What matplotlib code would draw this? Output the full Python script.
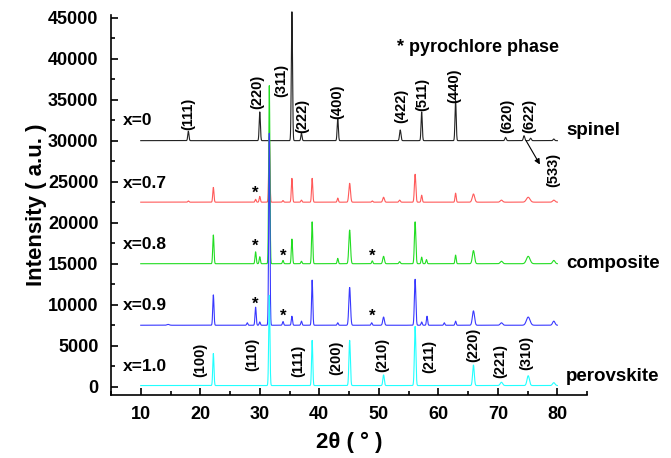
import numpy as np
import matplotlib.pyplot as plt

plt.rcParams['font.family'] = ['Liberation Sans', 'DejaVu Sans']
plt.rcParams['font.weight'] = 'bold'
plt.rcParams['axes.labelweight'] = 'bold'

# 2theta grid of the patterns
two_theta = np.arange(10, 80.01, 0.02)

# sample names, vertical offsets and colours
samples = ["x=0", "x=0.7", "x=0.8", "x=0.9", "x=1.0"]
offsets = [30000, 22500, 15000, 7500, 150]
colors = ["#222222", "#ff5a5a", "#22dd22", "#3838ff", "#22ffff"]

# peaks: position, height, width (sigma)
peaks_x0 = [(18.0, 1150, 0.1), (30.0, 3500, 0.1), (35.4, 15700, 0.1), (37.0, 900, 0.1),
            (43.1, 2700, 0.1), (53.6, 1300, 0.12), (57.2, 3500, 0.1), (62.9, 4900, 0.1),
            (71.3, 400, 0.12), (74.4, 600, 0.12), (75.5, 300, 0.12), (79.4, 200, 0.12)]
peaks_x07 = [(18.0, 150, 0.1), (22.2, 1800, 0.1), (29.3, 350, 0.1), (30.0, 700, 0.1),
             (31.6, 8000, 0.1), (33.9, 200, 0.1), (35.4, 2900, 0.1), (37.0, 250, 0.1),
             (38.8, 2900, 0.1), (43.1, 500, 0.1), (45.1, 2300, 0.14), (48.9, 150, 0.1),
             (50.8, 600, 0.14), (53.5, 250, 0.12), (56.1, 3400, 0.12), (57.2, 850, 0.1),
             (62.9, 1100, 0.1), (65.9, 1000, 0.2), (70.6, 250, 0.2), (75.1, 600, 0.3),
             (79.4, 250, 0.2)]
peaks_x08 = [(22.2, 3500, 0.1), (29.3, 1450, 0.1), (30.0, 850, 0.1), (31.6, 21700, 0.1),
             (33.9, 400, 0.1), (35.4, 3000, 0.1), (37.0, 300, 0.1), (38.8, 5100, 0.1),
             (43.1, 650, 0.1), (45.1, 4100, 0.14), (48.9, 350, 0.1), (50.8, 900, 0.14),
             (53.5, 250, 0.12), (56.1, 5100, 0.12), (57.2, 800, 0.1), (58.0, 500, 0.1),
             (62.9, 1050, 0.1), (65.9, 1600, 0.18), (70.6, 300, 0.2), (75.1, 900, 0.3),
             (79.4, 400, 0.2)]
peaks_x09 = [(14.6, 100, 0.2), (22.2, 3700, 0.1), (27.9, 300, 0.1), (29.3, 2200, 0.1),
             (30.0, 400, 0.1), (31.6, 23400, 0.1), (33.9, 450, 0.1), (35.4, 1100, 0.1),
             (37.0, 500, 0.1), (38.8, 5500, 0.1), (43.1, 300, 0.1), (45.1, 4600, 0.14),
             (48.8, 300, 0.1), (50.8, 1000, 0.14), (56.1, 5600, 0.12), (57.2, 400, 0.1),
             (58.1, 1100, 0.1), (61.0, 300, 0.1), (62.9, 500, 0.1), (65.9, 1750, 0.18),
             (70.6, 300, 0.2), (75.1, 1000, 0.3), (79.4, 500, 0.2)]
peaks_x10 = [(22.2, 3900, 0.1), (31.6, 11000, 0.1), (38.8, 5500, 0.1), (45.1, 5500, 0.12),
             (50.8, 1300, 0.12), (56.1, 7200, 0.12), (65.9, 2500, 0.14), (70.6, 400, 0.2),
             (75.1, 1200, 0.2), (79.4, 350, 0.2)]
all_peaks = [peaks_x0, peaks_x07, peaks_x08, peaks_x09, peaks_x10]

# hkl labels: text, x, y (bottom of rotated text)
spinel_labels = [("(111)", 18.0, 31300), ("(220)", 29.6, 33900), ("(311)", 33.6, 35300),
                 ("(222)", 37.2, 30900), ("(400)", 43.1, 32600), ("(422)", 53.7, 32100),
                 ("(511)", 57.3, 33600), ("(440)", 62.7, 34550), ("(620)", 71.5, 30900),
                 ("(622)", 75.2, 30900)]
perov_labels = [("(100)", 20.0, 1250), ("(110)", 28.8, 1980), ("(111)", 36.4, 1250),
                ("(200)", 42.9, 1460), ("(210)", 50.5, 1860), ("(211)", 58.5, 1670),
                ("(220)", 65.9, 3080), ("(221)", 70.4, 1060), ("(310)", 74.8, 2070)]
# pyrochlore markers
star_x = [29.3, 29.3, 33.9, 48.9, 29.3, 33.9, 48.9]
star_y = [23600, 17100, 15950, 15950, 10000, 8650, 8650]

# label positions for the sample names
name_y = [32500, 24800, 17350, 9850, 2450]
phase_names = ["spinel", "composite", "perovskite"]
phase_y = [31200, 15050, 1250]


def pattern(peaks, base):
    y = np.full_like(two_theta, float(base))
    for pos, h, w in peaks:
        y += h * np.exp(-0.5 * ((two_theta - pos) / w) ** 2)
    return y


fig = plt.figure(figsize=(6.71, 4.58), dpi=100)
ax = fig.add_axes([0.1654, 0.1376, 0.7096, 0.8294])

for pk, off, col in zip(all_peaks, offsets, colors):
    ax.plot(two_theta, pattern(pk, off), color=col, lw=0.8, clip_on=False)

for txt, x, y in spinel_labels + perov_labels:
    ax.text(x, y, txt, rotation=90, ha='center', va='bottom', fontsize=10.5)
ax.text(79.3, 24300, "(533)", rotation=90, ha='center', va='bottom', fontsize=10.5)
ax.annotate("", xy=(77.3, 26800), xytext=(74.5, 30300),
            arrowprops=dict(arrowstyle='-|>', color='k', lw=0.8, mutation_scale=8))

for x, y in zip(star_x, star_y):
    ax.text(x, y, "*", ha='center', va='center', fontsize=12)

for name, y in zip(samples, name_y):
    ax.text(7.0, y, name, ha='left', va='center', fontsize=12.5)
for name, y in zip(phase_names, phase_y):
    ax.text(81.5, y, name, ha='left', va='center', fontsize=13.5, clip_on=False)
ax.text(53.1, 41300, "* pyrochlore phase", ha='left', va='center', fontsize=13)

ax.set_xlim(5, 85)
ax.set_ylim(-1000, 45300)
ax.set_xticks(range(10, 81, 10))
ax.set_xticks(range(5, 86, 5), minor=True)
ax.set_yticks(range(0, 45001, 5000))
ax.set_yticks(range(0, 45001, 2500), minor=True)
ax.tick_params(which='both', direction='in', width=1.2, labelsize=13)
ax.tick_params(which='major', length=5)
ax.tick_params(which='minor', length=3)
ax.tick_params(axis='y', pad=9)
ax.tick_params(axis='x', pad=8)
for s in ['top', 'right']:
    ax.spines[s].set_visible(False)
for s in ['left', 'bottom']:
    ax.spines[s].set_linewidth(1.2)

ax.set_xlabel("2θ ( ° )", fontsize=16, labelpad=6)
ax.set_ylabel("Intensity ( a.u. )", fontsize=16, labelpad=1)

fig.savefig("out.png", dpi=100)
